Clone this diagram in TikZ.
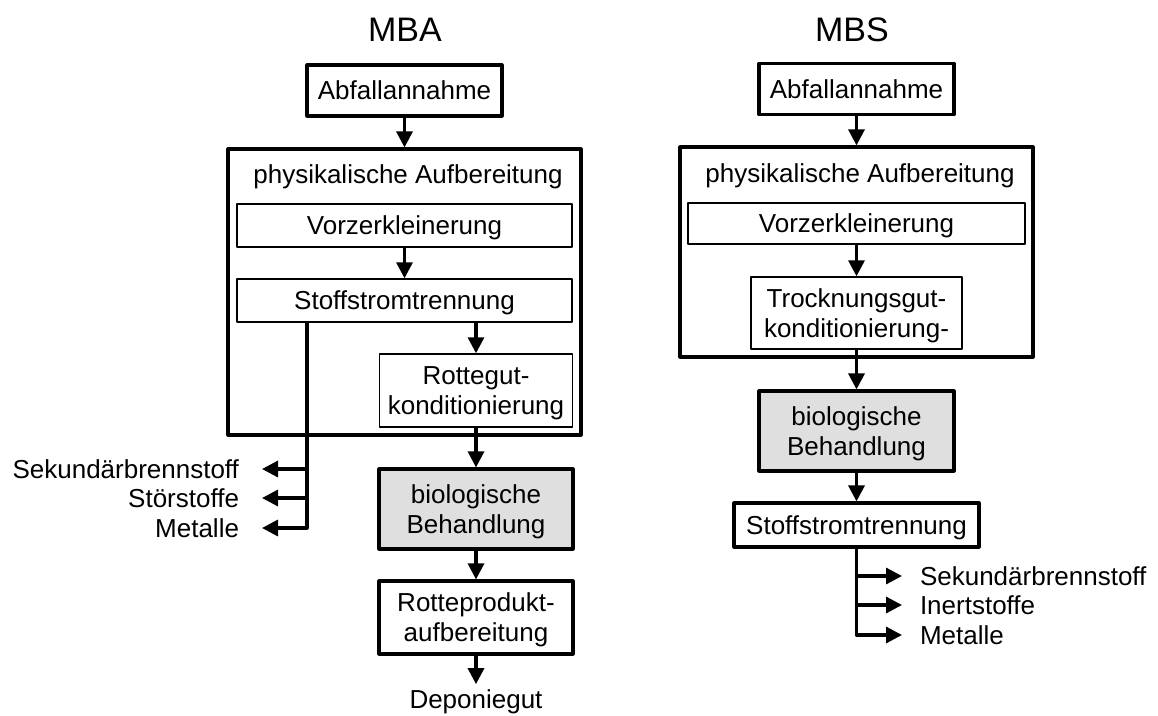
\documentclass[tikz,border=0pt]{standalone}
\usepackage{fontspec}
\setmainfont{Liberation Sans}
\usetikzlibrary{arrows.meta}
\tikzset{
  box/.style={draw,line width=3.2pt,inner sep=0pt,align=center,text depth=0pt},
  thinbox/.style={draw,line width=1.4pt,inner sep=0pt,align=center,text depth=0pt},
  biobox/.style={box,fill=gray!25},
  arr/.style={line width=3.2pt,-{Triangle[length=16pt,width=16pt]}},
  lab/.style={inner sep=0pt},
  headline/.style={inner sep=0pt,font=\fontsize{34}{40}\selectfont}
}
\begin{document}
\begin{tikzpicture}[x=1pt,y=-1pt,line join=round,font=\fontsize{26}{30}\selectfont]
  \useasboundingbox (0,0) rectangle (1158,715);
  % MBA
  \node[headline] (titleA) at (405,30) {MBA};
  \node[box,minimum width=195pt,minimum height=51pt] (abfA) at (404.5,90.5) {Abfallannahme};
  \node[box,minimum width=353pt,minimum height=286pt] (physA) at (404.5,292) {};
  \node[lab,anchor=base] (phystxtA) at (408,183) {physikalische Aufbereitung};
  \node[thinbox,minimum width=335pt,minimum height=43pt] (vorzA) at (404.5,225.5) {Vorzerkleinerung};
  \node[thinbox,minimum width=335pt,minimum height=43pt] (stoffA) at (404.5,300.5) {Stoffstromtrennung};
  \node[thinbox,minimum width=193pt,minimum height=73pt] (rotA) at (476,390.5) {Rottegut-\\konditionierung};
  \node[biobox,minimum width=194pt,minimum height=80pt] (bioA) at (476,509) {biologische\\Behandlung};
  \node[box,minimum width=194pt,minimum height=73pt] (rprodA) at (476,617.5) {Rotteprodukt-\\aufbereitung};
  \node[lab,anchor=base,outer ysep=5pt] (depA) at (476,708) {Deponiegut};
  \node[lab,anchor=east,outer xsep=23pt] (sekA) at (262,469) {Sekundärbrennstoff};
  \node[lab,anchor=east,outer xsep=23pt] (stoA) at (262,498) {Störstoffe};
  \node[lab,anchor=east,outer xsep=23pt] (metA) at (262,528) {Metalle};
  \coordinate (brA) at (307,322);
  \draw[arr] (abfA) -- (physA);
  \draw[arr] (vorzA) -- (stoffA);
  \draw[arr] (stoffA.south -| rotA) -- (rotA);
  \draw[arr] (rotA) -- (bioA);
  \draw[arr] (bioA) -- (rprodA);
  \draw[arr] (rprodA) -- (depA);
  \draw[arr] (brA) |- (sekA);
  \draw[arr] (brA) |- (stoA);
  \draw[arr] (brA) |- (metA);
  % MBS
  \node[headline] (titleB) at (852,30) {MBS};
  \node[box,minimum width=195pt,minimum height=51pt] (abfB) at (856.5,89) {Abfallannahme};
  \node[box,minimum width=353pt,minimum height=210pt] (physB) at (856.5,252) {};
  \node[lab,anchor=base] (phystxtB) at (860,182) {physikalische Aufbereitung};
  \node[thinbox,minimum width=337pt,minimum height=41pt] (vorzB) at (856.5,223.5) {Vorzerkleinerung};
  \node[thinbox,minimum width=211pt,minimum height=72pt] (trockB) at (856.5,313) {Trocknungsgut-\\konditionierung-};
  \node[biobox,minimum width=195pt,minimum height=80pt] (bioB) at (856.5,431) {biologische\\Behandlung};
  \node[box,minimum width=245pt,minimum height=44pt] (stoffB) at (856.5,525) {Stoffstromtrennung};
  \node[lab,anchor=west,outer xsep=18pt] (sekB) at (902,576) {Sekundärbrennstoff};
  \node[lab,anchor=west,outer xsep=18pt] (inB) at (902,605) {Inertstoffe};
  \node[lab,anchor=west,outer xsep=18pt] (metB) at (902,635) {Metalle};
  \draw[arr] (abfB) -- (physB);
  \draw[arr] (vorzB) -- (trockB);
  \draw[arr] (trockB) -- (bioB);
  \draw[arr] (bioB) -- (stoffB);
  \draw[arr] (stoffB) |- (sekB);
  \draw[arr] (stoffB) |- (inB);
  \draw[arr] (stoffB) |- (metB);
\end{tikzpicture}
\end{document}
